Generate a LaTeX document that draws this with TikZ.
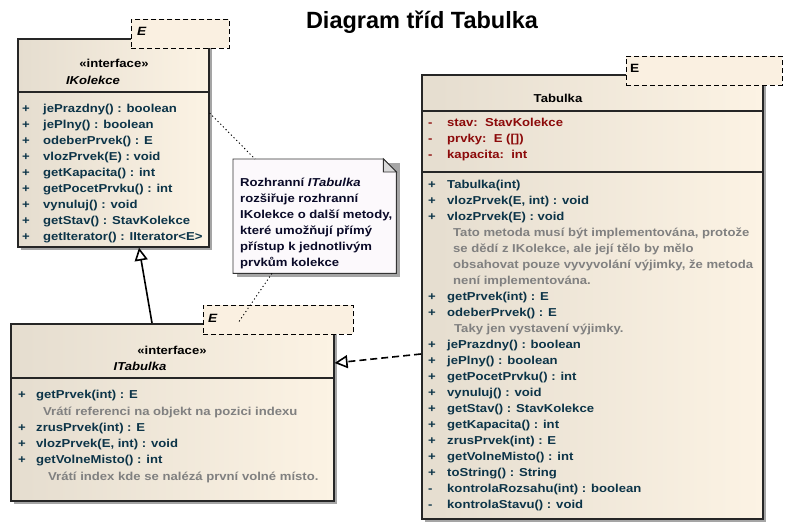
\documentclass[tikz,border=0pt]{standalone}
\usepackage{fontspec}
\usepackage{tikz}
\usepackage{xcolor}
\usetikzlibrary{arrows.meta}
\newfontfamily\umlfont{Liberation Sans}[FakeStretch=1.14]
\newfontfamily\headfont{Liberation Sans}
\definecolor{opcolor}{RGB}{12,52,72}
\definecolor{attcolor}{RGB}{140,10,10}
\definecolor{notecolor}{RGB}{128,128,128}
\definecolor{boxleft}{RGB}{229,221,207}
\definecolor{boxright}{RGB}{252,243,228}
\definecolor{tplfill}{RGB}{250,240,225}
\definecolor{shadowgray}{RGB}{165,165,165}
\definecolor{notefill}{RGB}{252,249,252}
\definecolor{notetext}{RGB}{10,10,40}
\newcommand{\vis}[2]{\makebox[#1][l]{#2}}

\begin{document}
\begin{tikzpicture}[x=1pt,y=-1pt,
        umlbox/.style={draw=black!85, line width=1.6pt, left color=boxleft, right color=boxright, anchor=north west, inner sep=0pt},
        tplbox/.style={draw=black, line width=0.9pt, dash pattern=on 5pt off 3pt, fill=tplfill, anchor=north west, inner sep=0pt},
        umltext/.style={anchor=base west, inner sep=0pt, font=\umlfont\bfseries\fontsize{11.5}{14}\selectfont},
        op/.style={umltext, text=opcolor},
        att/.style={umltext, text=attcolor},
        cmt/.style={umltext, text=notecolor},
        rel/.style={line width=1.6pt, -{Triangle[open,length=13pt,width=13pt]}},
        link/.style={line width=0.9pt, dash pattern=on 1.2pt off 2.6pt}]
                \useasboundingbox (0,0) rectangle (808,531);
                \fill[white] (0,0) rectangle (808,531);

                % Title
                \node[anchor=base, inner sep=0pt, font=\headfont\bfseries\fontsize{23.5}{28}\selectfont] (title) at (422,28) {Diagram tříd Tabulka};

                % Shadows
                \fill[shadowgray] (21,42) rectangle (212,250);
                \fill[shadowgray] (14,327) rectangle (337,504);
                \fill[shadowgray] (425,78) rectangle (766,522);
                \fill[shadowgray] (237,163) rectangle (400,277);

                % Boxes
                \node[umlbox, minimum width=191pt, minimum height=208pt] (ikolekce) at (17,38) {};
                \node[umlbox, minimum width=323pt, minimum height=177pt] (itabulka) at (10,323) {};
                \node[umlbox, minimum width=341pt, minimum height=444pt] (tabulka) at (421,74) {};

                % Compartment lines
                \draw[line width=1.6pt, black!85] (17,92) -- (208,92);
                \draw[line width=1.6pt, black!85] (10,378) -- (333,378);
                \draw[line width=1.6pt, black!85] (421,111) -- (762,111);
                \draw[line width=1.6pt, black!85] (421,172) -- (762,172);

                % Template parameters
                \node[tplbox, minimum width=98pt, minimum height=29pt] (tplK) at (131,19) {};
                \node[tplbox, minimum width=150pt, minimum height=29pt] (tplI) at (203,305) {};
                \node[tplbox, minimum width=156pt, minimum height=29pt] (tplT) at (626,56) {};
                \node[umltext, font=\umlfont\bfseries\itshape\fontsize{12}{14}\selectfont] (eK) at (137,35) {E};
                \node[umltext, font=\umlfont\bfseries\itshape\fontsize{12}{14}\selectfont] (eI) at (208,322) {E};
                \node[umltext, font=\umlfont\bfseries\fontsize{12}{14}\selectfont] (eT) at (630,72) {E};

                % IKolekce
                \node[umltext, anchor=base] (hK1) at (114,67) {«interface»};
                \node[umltext, anchor=base, font=\umlfont\bfseries\itshape\fontsize{11.5}{14}\selectfont] (hK2) at (93,84) {IKolekce};
                \node[op] (k1) at (22,112) {\vis{21pt}{+}jePrazdny() : boolean};
                \node[op] (k2) at (22,128) {\vis{21pt}{+}jePlny() : boolean};
                \node[op] (k3) at (22,144) {\vis{21pt}{+}odeberPrvek() : E};
                \node[op] (k4) at (22,160) {\vis{21pt}{+}vlozPrvek(E) : void};
                \node[op] (k5) at (22,176) {\vis{21pt}{+}getKapacita() : int};
                \node[op] (k6) at (22,192) {\vis{21pt}{+}getPocetPrvku() : int};
                \node[op] (k7) at (22,208) {\vis{21pt}{+}vynuluj() : void};
                \node[op] (k8) at (22,224) {\vis{21pt}{+}getStav() : StavKolekce};
                \node[op] (k9) at (22,240) {\vis{21pt}{+}getIterator() : IIterator<E>};

                % ITabulka
                \node[umltext, anchor=base] (hI1) at (172,354) {«interface»};
                \node[umltext, anchor=base, font=\umlfont\bfseries\itshape\fontsize{11.5}{14}\selectfont] (hI2) at (140,370) {ITabulka};
                \node[op] (i1) at (18,398) {\vis{18pt}{+}getPrvek(int) : E};
                \node[cmt] (i2) at (43,415) {Vrátí referenci na objekt na pozici indexu};
                \node[op] (i3) at (18,431) {\vis{18pt}{+}zrusPrvek(int) : E};
                \node[op] (i4) at (18,447) {\vis{18pt}{+}vlozPrvek(E, int) : void};
                \node[op] (i5) at (18,463) {\vis{18pt}{+}getVolneMisto() : int};
                \node[cmt] (i6) at (48,480) {Vrátí index kde se nalézá první volné místo.};

                % Tabulka
                \node[umltext, anchor=base] (hT) at (558,102) {Tabulka};
                \node[att] (ta1) at (428,126) {\vis{19pt}{-}stav:\ \ StavKolekce};
                \node[att] (ta2) at (428,142) {\vis{19pt}{-}prvky:\ \ E ([])};
                \node[att] (ta3) at (428,158) {\vis{19pt}{-}kapacita:\ \ int};
                \node[op] (t1) at (428,188) {\vis{19pt}{+}Tabulka(int)};
                \node[op] (t2) at (428,204) {\vis{19pt}{+}vlozPrvek(E, int) : void};
                \node[op] (t3) at (428,220) {\vis{19pt}{+}vlozPrvek(E) : void};
                \node[cmt] (t4) at (453,236) {Tato metoda musí být implementována, protože};
                \node[cmt] (t5) at (453,252) {se dědí z IKolekce, ale její tělo by mělo};
                \node[cmt] (t6) at (453,268) {obsahovat pouze vyvyvolání výjimky, že metoda};
                \node[cmt] (t7) at (453,284) {není implementována.};
                \node[op] (t8) at (428,300) {\vis{19pt}{+}getPrvek(int) : E};
                \node[op] (t9) at (428,316) {\vis{19pt}{+}odeberPrvek() : E};
                \node[cmt] (t10) at (454,332) {Taky jen vystavení výjimky.};
                \node[op] (t11) at (428,348) {\vis{19pt}{+}jePrazdny() : boolean};
                \node[op] (t12) at (428,364) {\vis{19pt}{+}jePlny() : boolean};
                \node[op] (t13) at (428,380) {\vis{19pt}{+}getPocetPrvku() : int};
                \node[op] (t14) at (428,396) {\vis{19pt}{+}vynuluj() : void};
                \node[op] (t15) at (428,412) {\vis{19pt}{+}getStav() : StavKolekce};
                \node[op] (t16) at (428,428) {\vis{19pt}{+}getKapacita() : int};
                \node[op] (t17) at (428,444) {\vis{19pt}{+}zrusPrvek(int) : E};
                \node[op] (t18) at (428,460) {\vis{19pt}{+}getVolneMisto() : int};
                \node[op] (t19) at (428,476) {\vis{19pt}{+}toString() : String};
                \node[op] (t20) at (428,492) {\vis{19pt}{-}kontrolaRozsahu(int) : boolean};
                \node[op] (t21) at (428,508) {\vis{19pt}{-}kontrolaStavu() : void};

                % Note
                \node[anchor=north west, inner sep=0pt, minimum width=163pt, minimum height=114pt] (note) at (233,159) {};
                \filldraw[fill=notefill, draw=black!80, line width=0.9pt] (note.north west) -- ([xshift=-13pt]note.north east) -- ([yshift=-13pt]note.north east) -- (note.south east) -- (note.south west) -- cycle;
                \filldraw[fill=black!15, draw=black!80, line width=0.9pt] ([xshift=-13pt]note.north east) -- ([xshift=-13pt,yshift=-13pt]note.north east) -- ([yshift=-13pt]note.north east) -- cycle;
                \node[umltext, text=notetext] (n1) at (240,186) {Rozhranní \textit{ITabulka}};
                \node[umltext, text=notetext] (n2) at (240,202) {rozšiřuje rozhranní};
                \node[umltext, text=notetext] (n3) at (240,218) {IKolekce o další metody,};
                \node[umltext, text=notetext] (n4) at (240,234) {které umožňují přímý};
                \node[umltext, text=notetext] (n5) at (240,250) {přístup k jednotlivým};
                \node[umltext, text=notetext] (n6) at (240,266) {prvkům kolekce};

                % Note links
                \draw[link] ([yshift=-75pt]ikolekce.north east) -- ([xshift=22pt]note.north west);
                \draw[link] ([xshift=39pt]note.south west) -- ([xshift=228pt]itabulka.north west);

                % Generalization
                \draw[rel] ([xshift=142pt]itabulka.north west) -- ([xshift=122pt]ikolekce.south west);
                % Realization
                \draw[rel, dash pattern=on 7pt off 4pt] ([yshift=-280pt]tabulka.north west) -- ([yshift=-40pt]itabulka.north east);
\end{tikzpicture}
\end{document}
